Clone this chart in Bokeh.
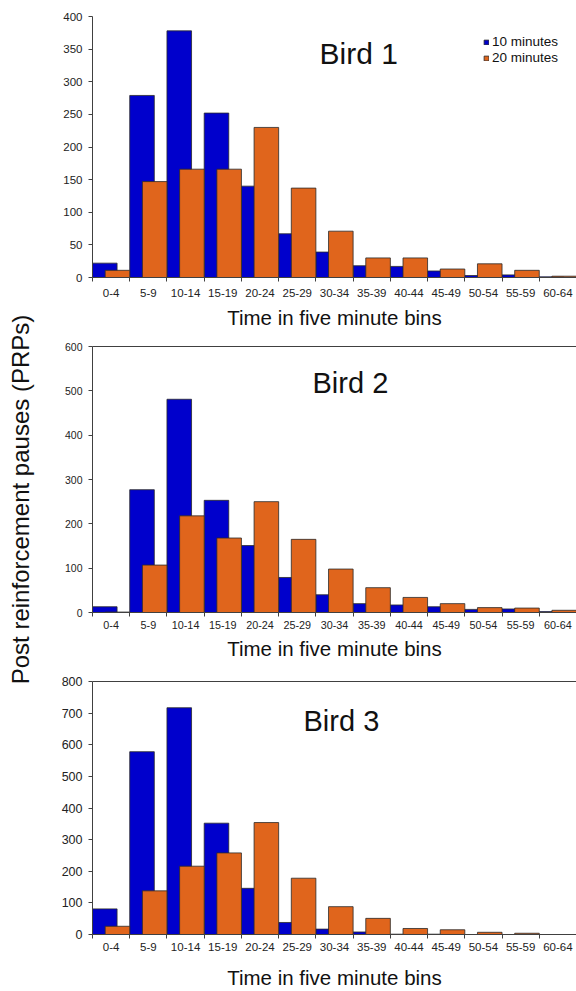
import math
import numpy as np
from bokeh.plotting import figure
from bokeh.layouts import row, column
from bokeh.models import (Range1d, FixedTicker, SingleIntervalTicker, LinearAxis,
                          Label, Legend, LegendItem, ColumnDataSource)
from bokeh.embed import file_html
from bokeh.resources import INLINE

# ---------------- data ----------------
bins = ["0-4", "5-9", "10-14", "15-19", "20-24", "25-29", "30-34",
        "35-39", "40-44", "45-49", "50-54", "55-59", "60-64"]
series_names = ["10 minutes", "20 minutes"]
bird1_10 = [22, 279, 378, 252, 140, 67, 39, 18, 17, 10, 3, 4, 1]
bird1_20 = [11, 147, 166, 166, 230, 137, 71, 30, 30, 13, 21, 11, 2]
bird2_10 = [13, 277, 481, 253, 151, 79, 40, 20, 17, 13, 7, 8, 2]
bird2_20 = [1, 107, 218, 168, 250, 165, 98, 56, 34, 20, 11, 10, 5]
bird3_10 = [81, 578, 717, 352, 146, 38, 17, 8, 1, 1, 0, 0, 0]
bird3_20 = [26, 138, 216, 258, 354, 178, 88, 51, 19, 15, 7, 4, 0]
titles = ["Bird 1", "Bird 2", "Bird 3"]
y_max = [400, 600, 800]
y_step = [50, 100, 100]
x_label = "Time in five minute bins"
y_label = "Post reinforcement pauses (PRPs)"

FONT = "Liberation Sans"
BLUE = "#0000CC"
ORANGE = "#E0651C"
EDGE = "#2a2a2a"
AXIS = "#404040"

LABEL_W = 36
PANEL_W = 540


def make_panel(v10, v20, ymax, ystep, title, height, b_top, b_bot,
               ytick_fs, xtick_fs, xtick_standoff, xlabel_standoff,
               title_fs, title_x, title_y, top_line, legend=False):
    p = figure(width=PANEL_W, height=height, x_range=Range1d(0, len(bins)),
               y_range=Range1d(0, ymax), output_backend="svg",
               toolbar_location=None, min_border_left=56, min_border_right=0,
               min_border_top=b_top, min_border_bottom=b_bot)
    p.xgrid.visible = False
    p.ygrid.visible = False
    p.outline_line_color = None
    p.background_fill_color = "white"
    p.border_fill_color = "white"

    idx = np.arange(len(bins))
    src = ColumnDataSource(dict(x10=idx + 0.33, x20=idx + 0.67,
                                v10=v10, v20=v20))
    r10 = p.vbar(x="x10", top="v10", bottom=0, width=0.66, source=src,
                 fill_color=BLUE, line_color=EDGE, line_width=0.8)
    r20 = p.vbar(x="x20", top="v20", bottom=0, width=0.66, source=src,
                 fill_color=ORANGE, line_color=EDGE, line_width=0.8)

    xa = p.xaxis[0]
    xa.ticker = FixedTicker(ticks=[float(i) + 0.5 for i in idx],
                            minor_ticks=[float(i) for i in range(len(bins) + 1)])
    xa.major_label_overrides = {float(i) + 0.5: b for i, b in enumerate(bins)}
    xa.major_tick_line_color = None
    xa.major_tick_out = 4
    xa.major_tick_in = 0
    xa.minor_tick_line_color = AXIS
    xa.minor_tick_out = 4
    xa.minor_tick_in = 0
    xa.axis_line_color = AXIS
    xa.major_label_text_font = FONT
    xa.major_label_text_font_size = f"{xtick_fs}px"
    xa.major_label_text_color = "#222222"
    xa.major_label_standoff = xtick_standoff
    xa.axis_label = x_label
    xa.axis_label_text_font = FONT
    xa.axis_label_text_font_style = "normal"
    xa.axis_label_text_font_size = "20.5px"
    xa.axis_label_text_color = "#111111"
    xa.axis_label_standoff = xlabel_standoff

    ya = p.yaxis[0]
    ya.ticker = SingleIntervalTicker(interval=ystep)
    ya.minor_tick_line_color = None
    ya.major_tick_out = 4
    ya.major_tick_in = 0
    ya.major_tick_line_color = AXIS
    ya.axis_line_color = AXIS
    ya.major_label_text_font = FONT
    ya.major_label_text_font_size = f"{ytick_fs}px"
    ya.major_label_text_color = "#222222"
    ya.major_label_standoff = 6

    if top_line:
        top = LinearAxis(ticker=FixedTicker(ticks=[]), axis_line_color=AXIS,
                         major_tick_line_color=None, minor_tick_line_color=None,
                         major_tick_out=0, major_tick_in=0, minor_tick_out=0,
                         major_label_standoff=0,
                         major_label_text_font_size="0px")
        p.add_layout(top, "above")

    p.add_layout(Label(x=title_x, y=title_y, x_units="screen", y_units="screen",
                       text=title, text_font=FONT, text_font_size=f"{title_fs}px",
                       text_color="#111111", text_baseline="alphabetic",
                       text_align="left"))

    if legend:
        leg = Legend(items=[LegendItem(label=series_names[0], renderers=[r10]),
                            LegendItem(label=series_names[1], renderers=[r20])],
                     location=(391, 212), orientation="vertical",
                     glyph_width=6, glyph_height=6, label_height=15,
                     label_standoff=3, spacing=1, padding=0, margin=0,
                     border_line_color=None, background_fill_alpha=0,
                     label_text_font=FONT, label_text_font_size="13.5px",
                     label_text_color="#111111")
        p.add_layout(leg, "center")
    return p


p1 = make_panel(bird1_10, bird1_20, y_max[0], y_step[0], titles[0],
                336, 16, 59, 11.5, 11.5, 7, 6, 30, 227, 224, False, legend=True)
p2 = make_panel(bird2_10, bird2_20, y_max[1], y_step[1], titles[1],
                335, 10, 59, 10.5, 10.8, 4, 5, 29, 220, 230, True)
p3 = make_panel(bird3_10, bird3_20, y_max[2], y_step[2], titles[2],
                320, 10, 56, 12.5, 11.5, 4, 12, 29, 211, 214, True)

lab = figure(width=LABEL_W, height=991, x_range=Range1d(0, 1), y_range=Range1d(0, 1),
             output_backend="svg", toolbar_location=None, min_border=0)
lab.axis.visible = False
lab.xgrid.visible = False
lab.ygrid.visible = False
lab.outline_line_color = None
lab.add_layout(Label(x=20, y=492, x_units="screen", y_units="screen",
                     text=y_label, angle=math.pi / 2, text_font=FONT,
                     text_font_size="24px", text_color="#111111",
                     text_align="center", text_baseline="middle"))

layout = row(lab, column(p1, p2, p3))
open("out.html", "w").write(file_html(layout, INLINE))
